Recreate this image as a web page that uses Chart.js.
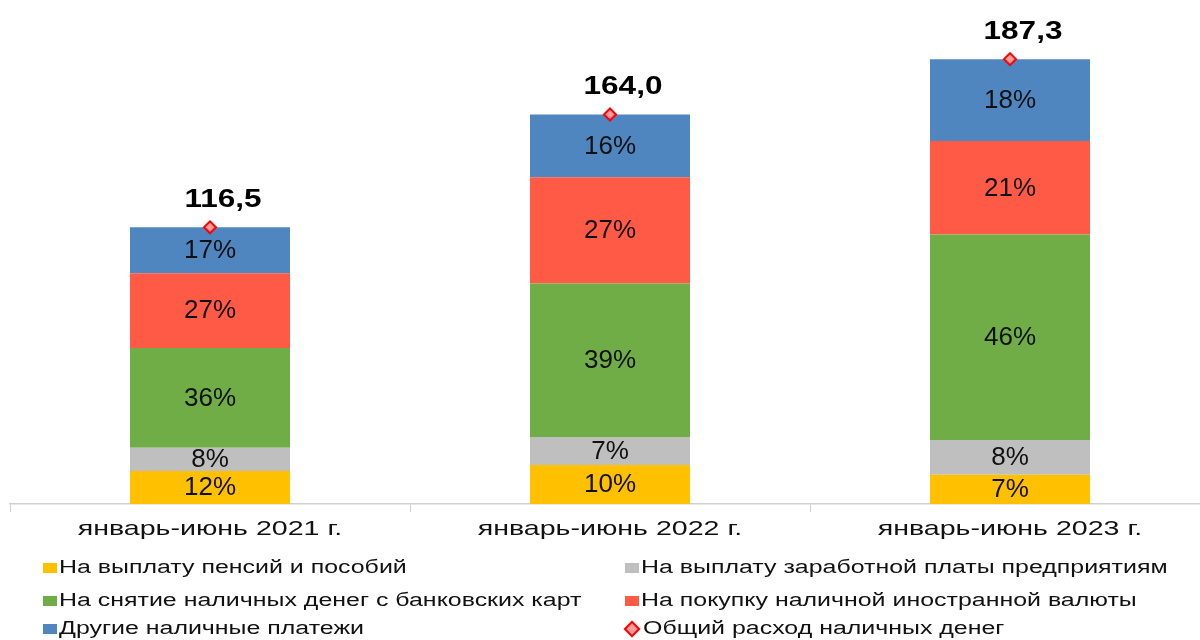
<!DOCTYPE html>
<html>
<head>
<meta charset="utf-8">
<script src="https://cdn.jsdelivr.net/npm/chart.js@4.4.0/dist/chart.umd.min.js"></script>
<style>
  html, body { margin:0; padding:0; background:#fff; width:1200px; height:640px; overflow:hidden; }
  #wrap { position:absolute; left:0; top:0; width:1220px; height:560px; }
  #legend { position:absolute; left:0; top:553px; width:1200px; height:87px; font-family:"Liberation Sans", Arial, sans-serif; font-size:18px; color:#111; }
  .item { position:absolute; display:flex; align-items:center; white-space:nowrap; }
  .sw { width:14px; height:10px; margin-right:2px; flex:none; }
  .dm { width:8px; height:8px; border:2px solid #ff0000; background:#ff9a9a; transform:rotate(45deg); margin:0 5px 0 3px; flex:none; }
  .tx { display:inline-block; transform:scaleX(1.385); transform-origin:left center; }
</style>
</head>
<body>
<div id="wrap"><canvas id="c" width="1220" height="560"></canvas></div>
<div id="legend"></div>
<script>
const categories = ['январь-июнь 2021 г.', 'январь-июнь 2022 г.', 'январь-июнь 2023 г.'];
const totals = [116.5, 164.0, 187.3];
const seriesNames = [
  'На выплату пенсий и пособий',
  'На выплату заработной платы предприятиям',
  'На снятие наличных денег с банковских карт',
  'На покупку наличной иностранной валюты',
  'Другие наличные платежи'
];
const totalName = 'Общий расход наличных денег';
// shares of total, %
const sharePensions = [11.9, 10.0, 6.6];
const shareSalaries = [8.4, 7.2, 7.8];
const shareCards    = [36.1, 39.4, 46.2];
const shareCurrency = [27.0, 27.3, 21.0];
const shareOther    = [16.6, 16.1, 18.4];
const colors = ['#FFC000', '#BFBFBF', '#70AD47', '#FF5A46', '#4F86C0'];

const shares = [sharePensions, shareSalaries, shareCards, shareCurrency, shareOther];
const barDatasets = shares.map((s, i) => ({
  type: 'bar',
  label: seriesNames[i],
  data: s.map((p, j) => totals[j] * p / 100),
  shares: s,
  backgroundColor: colors[i],
  borderWidth: 0,
  stack: 'main',
  order: 2,
  barPercentage: 0.8,
  categoryPercentage: 0.5
}));
const totalDataset = {
  type: 'line',
  label: totalName,
  data: totals,
  showLine: false,
  stack: 'total',
  order: 0,
  pointStyle: 'rectRot',
  pointRadius: 6,
  pointBorderWidth: 2,
  pointBorderColor: '#FF0000',
  pointBackgroundColor: '#FF9A9A'
};

function stretchedText(ctx, text, x, y, sx) {
  ctx.save();
  ctx.translate(x, y);
  ctx.scale(sx, 1);
  ctx.fillText(text, 0, 0);
  ctx.restore();
}

const labelPlugin = {
  id: 'labels',
  afterDatasetsDraw(chart) {
    const ctx = chart.ctx;
    ctx.save();
    ctx.textAlign = 'center';
    ctx.textBaseline = 'middle';
    chart.data.datasets.forEach((ds, di) => {
      const meta = chart.getDatasetMeta(di);
      meta.data.forEach((el, j) => {
        if (ds.type === 'bar') {
          const y = (el.y + el.base) / 2;
          ctx.font = '25px "Liberation Sans", Arial, sans-serif';
          ctx.fillStyle = '#111';
          stretchedText(ctx, Math.round(ds.shares[j]) + '%', el.x, y + 1, 1.04);
        } else {
          ctx.font = 'bold 25px "Liberation Sans", Arial, sans-serif';
          ctx.fillStyle = '#000';
          stretchedText(ctx, ds.data[j].toFixed(1).replace('.', ','), el.x + 13, el.y - 27, 1.26);
        }
      });
    });
    // category labels
    const xs = chart.scales.x;
    ctx.font = '21px "Liberation Sans", Arial, sans-serif';
    ctx.fillStyle = '#111';
    chart.data.labels.forEach((lab, i) => {
      stretchedText(ctx, lab, xs.getPixelForValue(i), xs.top + 25, 1.36);
    });
    ctx.restore();
  }
};

new Chart(document.getElementById('c'), {
  data: { labels: categories, datasets: [...barDatasets, totalDataset] },
  options: {
    responsive: false,
    animation: false,
    layout: { padding: { left: 10, right: 10, top: 29, bottom: 48 } },
    plugins: { legend: { display: false }, tooltip: { enabled: false } },
    scales: {
      x: {
        stacked: true,
        offset: true,
        border: { color: '#D0D0D0', width: 1.5 },
        grid: { offset: true, drawOnChartArea: false, drawTicks: true, tickLength: 8, color: '#D0D0D0' },
        ticks: { display: false }
      },
      y: {
        stacked: true,
        display: false,
        min: 0,
        max: 200
      }
    }
  },
  plugins: [labelPlugin]
});

// legend
const legend = document.getElementById('legend');
const items = [
  { name: seriesNames[0], color: colors[0], x: 43, y: 4 },
  { name: seriesNames[2], color: colors[2], x: 43, y: 37 },
  { name: seriesNames[4], color: colors[4], x: 43, y: 65 },
  { name: seriesNames[1], color: colors[1], x: 625, y: 4 },
  { name: seriesNames[3], color: colors[3], x: 625, y: 37 },
  { name: totalName, diamond: true, x: 623, y: 65 }
];
items.forEach(it => {
  const d = document.createElement('div');
  d.className = 'item';
  d.style.left = it.x + 'px';
  d.style.top = it.y + 'px';
  const m = document.createElement('span');
  if (it.diamond) { m.className = 'dm'; } else { m.className = 'sw'; m.style.background = it.color; }
  d.appendChild(m);
  const t = document.createElement('span');
  t.className = 'tx';
  t.textContent = it.name;
  d.appendChild(t);
  legend.appendChild(d);
});
</script>
</body>
</html>
